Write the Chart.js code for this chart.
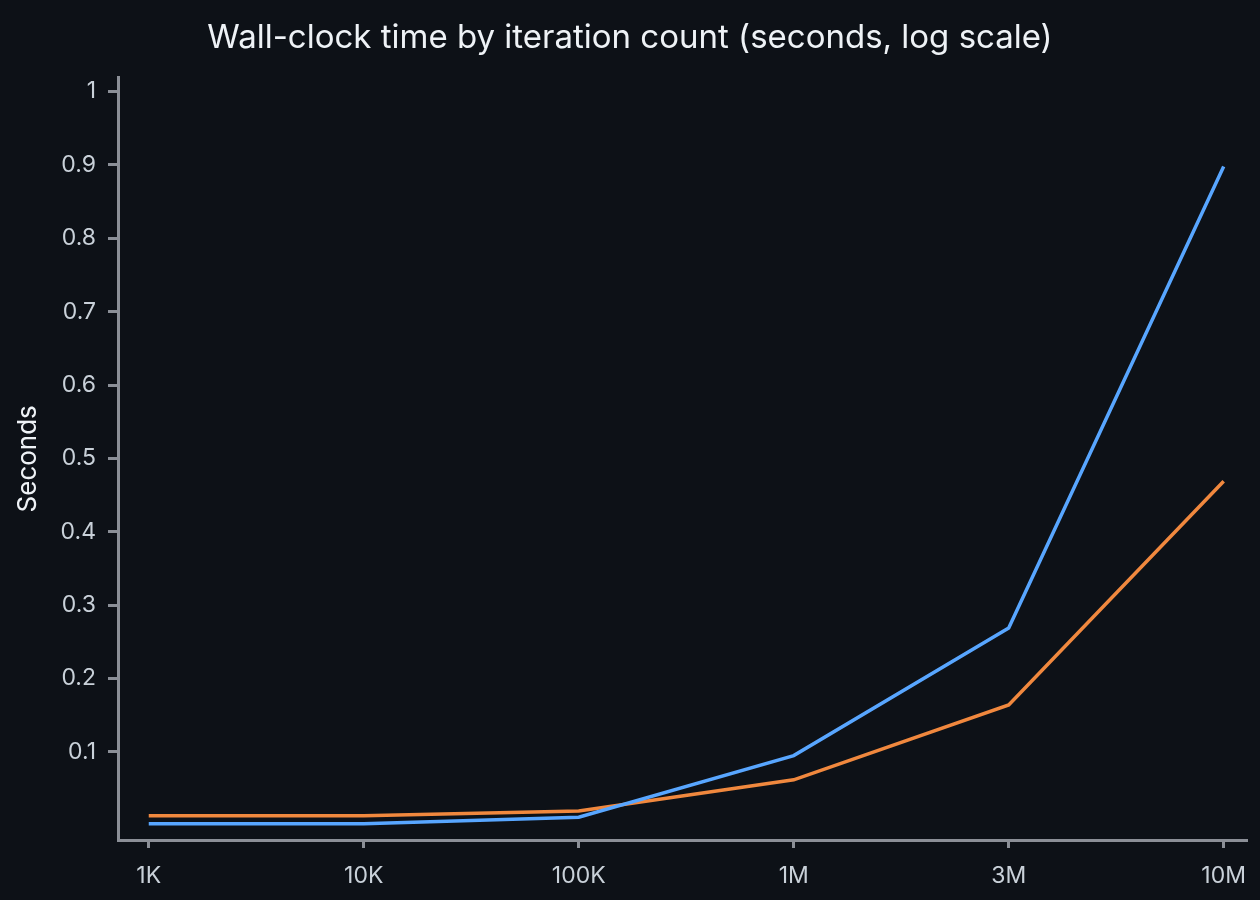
<!DOCTYPE html>
<html>
<head>
<meta charset="utf-8">
<script src="https://cdn.jsdelivr.net/npm/chart.js@4/dist/chart.umd.min.js"></script>
<style>
  html, body { margin: 0; padding: 0; background: #0d1117; }
  #wrap { width: 1260px; height: 900px; }
</style>
</head>
<body>
<div id="wrap"><canvas id="chart"></canvas></div>
<script>
// Datos
const iterLabels = ['1K', '10K', '100K', '1M', '3M', '10M'];
const blueSeries = [0.002, 0.002, 0.011, 0.095, 0.269, 0.898];
const orangeSeries = [0.013, 0.013, 0.0195, 0.062, 0.164, 0.469];
const yTicks = [0.1, 0.2, 0.3, 0.4, 0.5, 0.6, 0.7, 0.8, 0.9, 1];

const axisColor = '#8b8f97';
const textColor = '#c9d1d9';
const fontFamily = 'Inter, "Noto Sans", sans-serif';

const toPoints = (vals) => vals.map((v, i) => ({ x: i, y: v }));

new Chart(document.getElementById('chart'), {
    type: 'line',
    data: {
        datasets: [
            {
                label: 'blue',
                data: toPoints(blueSeries),
                borderColor: '#58a6ff',
                borderWidth: 3.5,
                pointRadius: 0,
                tension: 0
            },
            {
                label: 'orange',
                data: toPoints(orangeSeries),
                borderColor: '#f0883e',
                borderWidth: 3.5,
                pointRadius: 0,
                tension: 0
            }
        ]
    },
    options: {
        responsive: true,
        maintainAspectRatio: false,
        animation: false,
        layout: { padding: 0 },
        plugins: {
            legend: { display: false },
            tooltip: { enabled: false },
            title: {
                display: true,
                text: 'Wall-clock time by iteration count (seconds, log scale)',
                color: '#eef2f6',
                font: { family: fontFamily, size: 33, weight: 'normal' },
                padding: { top: 18, bottom: 20 }
            }
        },
        scales: {
            x: {
                type: 'linear',
                min: -0.143,
                max: 5.106,
                afterBuildTicks: (scale) => {
                    scale.ticks = iterLabels.map((_, i) => ({ value: i }));
                },
                afterFit: (scale) => { scale.height = 60; },
                ticks: {
                    color: textColor,
                    font: { family: fontFamily, size: 23 },
                    padding: 14,
                    autoSkip: false,
                    maxRotation: 0,
                    callback: (value) => iterLabels[value]
                },
                grid: {
                    drawOnChartArea: false,
                    drawTicks: true,
                    tickLength: 8,
                    color: axisColor,
                    lineWidth: 3
                },
                border: { display: true, color: axisColor, width: 3 }
            },
            y: {
                type: 'linear',
                min: -0.02,
                max: 1.019,
                afterBuildTicks: (scale) => {
                    scale.ticks = yTicks.map(v => ({ value: v }));
                },
                afterFit: (scale) => { scale.width = 118; },
                ticks: {
                    color: textColor,
                    font: { family: fontFamily, size: 23 },
                    padding: 12,
                    callback: (value) => String(+value.toFixed(1))
                },
                grid: {
                    drawOnChartArea: false,
                    drawTicks: true,
                    tickLength: 10,
                    color: axisColor,
                    lineWidth: 3
                },
                border: { display: true, color: axisColor, width: 3 },
                title: {
                    display: true,
                    text: 'Seconds',
                    color: '#eef2f6',
                    font: { family: fontFamily, size: 26 },
                    padding: { top: 13, bottom: 0 }
                }
            }
        }
    }
});
</script>
</body>
</html>
